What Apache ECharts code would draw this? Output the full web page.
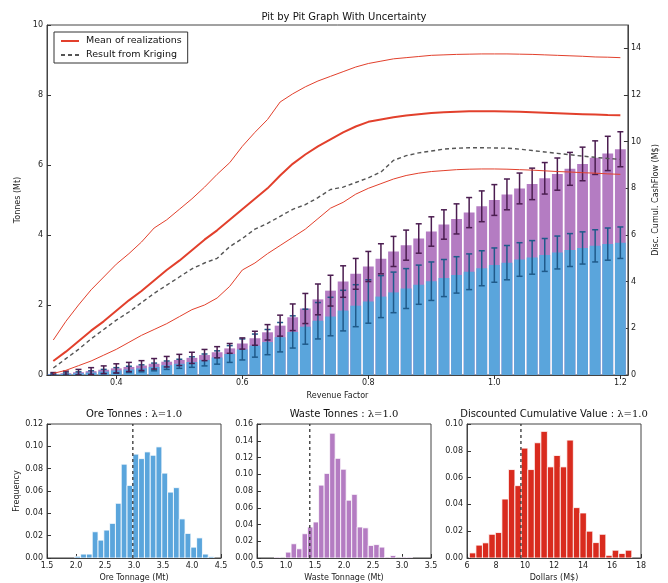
<!DOCTYPE html>
<html><head><meta charset="utf-8">
<script src="https://cdn.jsdelivr.net/npm/echarts@6/dist/echarts.min.js"></script>
<style>html,body{margin:0;padding:0;background:#fff}#c{width:668px;height:583px}</style>
</head><body><div id="c"></div>
<script>
// ---------------- DATA ----------------
const revenueFactor = [0.30,0.32,0.34,0.36,0.38,0.40,0.42,0.44,0.46,0.48,0.50,0.52,0.54,0.56,0.58,0.60,0.62,0.64,0.66,0.68,0.70,0.72,0.74,0.76,0.78,0.80,0.82,0.84,0.86,0.88,0.90,0.92,0.94,0.96,0.98,1.00,1.02,1.04,1.06,1.08,1.10,1.12,1.14,1.16,1.18,1.20];
const oreTonnes = [0.02,0.03,0.05,0.07,0.10,0.13,0.16,0.19,0.23,0.28,0.32,0.37,0.43,0.50,0.60,0.73,0.84,0.94,1.08,1.23,1.38,1.55,1.67,1.84,1.98,2.10,2.24,2.36,2.47,2.58,2.68,2.77,2.86,2.95,3.05,3.14,3.21,3.30,3.36,3.43,3.50,3.57,3.63,3.69,3.74,3.78];
const totalTonnes = [0.03,0.05,0.08,0.11,0.15,0.19,0.23,0.27,0.32,0.38,0.43,0.49,0.57,0.65,0.76,0.90,1.05,1.22,1.41,1.65,1.90,2.16,2.41,2.67,2.89,3.10,3.32,3.53,3.71,3.90,4.10,4.30,4.46,4.64,4.82,5.00,5.16,5.33,5.46,5.62,5.74,5.89,6.03,6.21,6.33,6.45];
const oreErr = [0.02,0.03,0.04,0.05,0.06,0.08,0.09,0.10,0.11,0.12,0.13,0.15,0.17,0.19,0.24,0.30,0.33,0.36,0.42,0.46,0.50,0.52,0.55,0.58,0.60,0.62,0.60,0.58,0.57,0.56,0.55,0.53,0.52,0.51,0.50,0.49,0.49,0.48,0.48,0.47,0.47,0.47,0.46,0.46,0.46,0.45];
const totalErr = [0.04,0.06,0.08,0.10,0.11,0.13,0.13,0.14,0.15,0.15,0.16,0.16,0.16,0.16,0.14,0.16,0.20,0.22,0.30,0.38,0.43,0.44,0.44,0.45,0.44,0.43,0.43,0.43,0.43,0.42,0.42,0.42,0.43,0.43,0.44,0.44,0.44,0.44,0.45,0.45,0.46,0.47,0.48,0.48,0.49,0.50];
const meanCash = [0.6,1.0,1.45,1.9,2.3,2.75,3.2,3.6,4.05,4.5,4.9,5.35,5.8,6.2,6.65,7.1,7.55,8.0,8.55,9.05,9.45,9.8,10.1,10.4,10.65,10.85,10.95,11.05,11.12,11.18,11.23,11.26,11.28,11.3,11.3,11.3,11.29,11.28,11.26,11.24,11.22,11.2,11.18,11.16,11.14,11.13];
const upperCash = [1.5,2.3,3.0,3.65,4.2,4.75,5.2,5.7,6.3,6.65,7.1,7.55,8.05,8.6,9.1,9.8,10.4,10.95,11.7,12.05,12.35,12.6,12.8,13.0,13.2,13.35,13.45,13.55,13.6,13.65,13.7,13.72,13.74,13.75,13.76,13.76,13.76,13.75,13.74,13.72,13.7,13.68,13.66,13.63,13.62,13.6];
const lowerCash = [0.07,0.2,0.4,0.6,0.85,1.1,1.4,1.7,1.95,2.2,2.5,2.8,3.0,3.3,3.8,4.5,4.8,5.2,5.55,5.9,6.25,6.7,7.15,7.4,7.75,8.0,8.2,8.4,8.55,8.65,8.72,8.76,8.8,8.82,8.83,8.83,8.82,8.8,8.78,8.75,8.72,8.7,8.67,8.65,8.62,8.6];
const krigingCash = [0.3,0.7,1.1,1.55,1.95,2.35,2.7,3.1,3.5,3.85,4.2,4.55,4.8,5.0,5.5,5.85,6.25,6.5,6.8,7.1,7.3,7.6,7.95,8.05,8.25,8.45,8.7,9.2,9.4,9.52,9.6,9.68,9.72,9.74,9.74,9.73,9.72,9.68,9.62,9.56,9.5,9.44,9.38,9.33,9.28,9.24];

const xTicks = [0.4,0.6,0.8,1.0,1.2];
const rightTicks = [0,2,4,6,8,10,12,14];

const oreBins = [2.03,2.13,2.23,2.33,2.43,2.53,2.63,2.73,2.83,2.93,3.03,3.13,3.23,3.33,3.43,3.53,3.63,3.73,3.83,3.93,4.03,4.13,4.23,4.33];
const oreFreq = [0.0015,0.0035,0.0035,0.0235,0.016,0.025,0.031,0.049,0.084,0.065,0.093,0.089,0.095,0.092,0.0995,0.076,0.059,0.063,0.035,0.022,0.0097,0.018,0.0035,0.0012];
const wasteBins = [0.85,0.945,1.04,1.135,1.23,1.325,1.42,1.515,1.61,1.705,1.80,1.895,1.99,2.085,2.18,2.275,2.37,2.465,2.56,2.655,2.75,2.845,2.94,3.035,3.13];
const wasteFreq = [0.001,0,0.007,0.017,0.011,0.029,0.037,0.043,0.087,0.101,0.149,0.119,0.106,0.069,0.076,0.037,0.036,0.015,0.016,0.013,0.001,0.003,0,0.001,0.001];
const valueBins = [6.39,6.84,7.29,7.73,8.18,8.63,9.08,9.53,9.97,10.42,10.87,11.32,11.77,12.21,12.66,13.11,13.56,14.01,14.45,14.90,15.35,15.80,16.24,16.69,17.14];
const valueFreq = [0.0038,0.0096,0.0113,0.0177,0.019,0.044,0.066,0.054,0.082,0.066,0.086,0.0945,0.068,0.0765,0.068,0.088,0.0376,0.0336,0.020,0.0115,0.0177,0.002,0.0058,0.0034,0.0058];
const krigingAtOne = [2.98, 1.41, 9.72];

// ---------------- CHART ----------------
const F = 'DejaVu Sans';
const blue = '#5AA5DC', purple = '#B47CC2', red = '#E2402C', blueErr = '#1F5A8A', purpErr = '#4B1D50', histRed = '#D92B1E';
const barHalf = 0.0086;

function rectRender(hw, fill) {
  return function (params, api) {
    const x = api.value(0), y0 = api.value(1), y1 = api.value(2);
    const p0 = api.coord([x - hw, y1]), p1 = api.coord([x + hw, y0]);
    return { type: 'rect', shape: { x: p0[0], y: p0[1], width: p1[0] - p0[0], height: p1[1] - p0[1] }, style: { fill: fill } };
  };
}
function errRender(color) {
  return function (params, api) {
    const x = api.value(0), lo = api.value(1), hi = api.value(2);
    const a = api.coord([x, hi]), b = api.coord([x, lo]);
    const c = 3, st = { stroke: color, lineWidth: 1.5 };
    return { type: 'group', children: [
      { type: 'line', shape: { x1: a[0], y1: a[1], x2: b[0], y2: b[1] }, style: st },
      { type: 'line', shape: { x1: a[0] - c, y1: a[1], x2: a[0] + c, y2: a[1] }, style: st },
      { type: 'line', shape: { x1: b[0] - c, y1: b[1], x2: b[0] + c, y2: b[1] }, style: st }
    ]};
  };
}

const lab = { fontFamily: F, fontSize: 8, color: '#222' };
const tickIn = { inside: true, length: 4, lineStyle: { color: '#333' } };
const aLine = { show: true, lineStyle: { color: '#444', width: 1 } };

const grids = [
  { left: 47, top: 25, width: 595, height: 350 },
  { left: 47, top: 424, width: 174, height: 140 },
  { left: 257, top: 424, width: 174, height: 140 },
  { left: 467, top: 424, width: 174, height: 140 }
].map(g => Object.assign(g, { show: true, borderColor: '#444', borderWidth: 1, backgroundColor: 'transparent' }));

const xAxis = [
  { type: 'value', gridIndex: 0, min: 0.29, max: 1.212, position: 'bottom', splitLine: { show: false },
    axisLine: aLine, axisTick: Object.assign({ customValues: xTicks }, tickIn),
    axisLabel: Object.assign({ customValues: xTicks, margin: 4, formatter: v => v.toFixed(1) }, lab),
    name: 'Revenue Factor', nameLocation: 'middle', nameGap: 12, nameTextStyle: lab },
  { type: 'value', gridIndex: 0, min: 0.29, max: 1.212, position: 'top', splitLine: { show: false },
    axisLine: aLine, axisTick: Object.assign({ customValues: xTicks }, tickIn), axisLabel: { show: false } },
  { type: 'value', gridIndex: 1, min: 1.5, max: 4.5, interval: 0.5, splitLine: { show: false }, axisLine: aLine, axisTick: tickIn,
    axisLabel: Object.assign({ margin: 4, formatter: v => v.toFixed(1) }, lab),
    name: 'Ore Tonnage (Mt)', nameLocation: 'middle', nameGap: 16, nameTextStyle: lab },
  { type: 'value', gridIndex: 2, min: 0.5, max: 3.5, interval: 0.5, splitLine: { show: false }, axisLine: aLine, axisTick: tickIn,
    axisLabel: Object.assign({ margin: 4, formatter: v => v.toFixed(1) }, lab),
    name: 'Waste Tonnage (Mt)', nameLocation: 'middle', nameGap: 16, nameTextStyle: lab },
  { type: 'value', gridIndex: 3, min: 6, max: 18, interval: 2, splitLine: { show: false }, axisLine: aLine, axisTick: tickIn,
    axisLabel: Object.assign({ margin: 4 }, lab),
    name: 'Dollars (M$)', nameLocation: 'middle', nameGap: 16, nameTextStyle: lab }
];
const yAxis = [
  { type: 'value', gridIndex: 0, min: 0, max: 10, interval: 2, position: 'left', splitLine: { show: false }, axisLine: aLine, axisTick: tickIn,
    axisLabel: Object.assign({ margin: 4 }, lab),
    name: 'Tonnes (Mt)', nameLocation: 'middle', nameGap: 25, nameRotate: 90, nameTextStyle: lab },
  { type: 'value', gridIndex: 0, min: 0, max: 15, position: 'right', splitLine: { show: false }, axisLine: aLine,
    axisTick: Object.assign({ customValues: rightTicks }, tickIn),
    axisLabel: Object.assign({ customValues: rightTicks, margin: 3 }, lab),
    name: 'Disc. Cumul. CashFlow (M$)', nameLocation: 'middle', nameGap: 12, nameRotate: 90, nameTextStyle: lab },
  { type: 'value', gridIndex: 1, min: 0, max: 0.12, interval: 0.02, splitLine: { show: false }, axisLine: aLine, axisTick: tickIn,
    axisLabel: Object.assign({ margin: 4, formatter: v => v.toFixed(2) }, lab),
    name: 'Frequency', nameLocation: 'middle', nameGap: 25, nameRotate: 90, nameTextStyle: lab },
  { type: 'value', gridIndex: 2, min: 0, max: 0.16, interval: 0.02, splitLine: { show: false }, axisLine: aLine, axisTick: tickIn,
    axisLabel: Object.assign({ margin: 4, formatter: v => v.toFixed(2) }, lab) },
  { type: 'value', gridIndex: 3, min: 0, max: 0.10, interval: 0.02, splitLine: { show: false }, axisLine: aLine, axisTick: tickIn,
    axisLabel: Object.assign({ margin: 4, formatter: v => v.toFixed(2) }, lab) }
];

const totalRects = revenueFactor.map((x, i) => [x, 0, totalTonnes[i]]);
const oreRects = revenueFactor.map((x, i) => [x, 0, oreTonnes[i]]);
const totalErrData = revenueFactor.map((x, i) => [x, totalTonnes[i] - totalErr[i], totalTonnes[i] + totalErr[i]]);
const oreErrData = revenueFactor.map((x, i) => [x, oreTonnes[i] - oreErr[i], oreTonnes[i] + oreErr[i]]);
const pair = (xs, ys) => xs.map((x, i) => [x, ys[i]]);

function histSeries(idx, bins, freq, hw, color) {
  return { type: 'custom', xAxisIndex: idx + 2, yAxisIndex: idx + 2, clip: true, z: 2,
    renderItem: (p, api) => {
      const c = api.value(0), v = api.value(1);
      const p0 = api.coord([c - hw, v]), p1 = api.coord([c + hw, 0]);
      return { type: 'rect', shape: { x: p0[0], y: p0[1], width: p1[0] - p0[0], height: p1[1] - p0[1] },
        style: { fill: color, stroke: '#fff', lineWidth: 0.8 } };
    },
    data: pair(bins, freq) };
}
function krigLine(idx, ymax) {
  return { type: 'line', xAxisIndex: idx + 2, yAxisIndex: idx + 2, symbol: 'none', z: 4, silent: true,
    lineStyle: { color: '#333', width: 1.3, type: [3, 3] },
    data: [[krigingAtOne[idx], 0], [krigingAtOne[idx], ymax]] };
}

const titleStyle = { fontFamily: F, fontSize: 10, fontWeight: 'normal', color: '#111' };
const lamRich = { a: { fontFamily: F, fontSize: 10, color: '#111' }, b: { fontFamily: 'DejaVu Serif', fontSize: 10, color: '#111' } };

const option = {
  animation: false,
  backgroundColor: '#fff',
  textStyle: { fontFamily: F },
  title: [
    { text: 'Pit by Pit Graph With Uncertainty', left: 344, top: 12, textAlign: 'center', textStyle: titleStyle, padding: 0 },
    { text: '{a|Ore Tonnes : }{b|λ=1.0}', left: 134, top: 409, textAlign: 'center', padding: 0, textStyle: Object.assign({ rich: lamRich }, titleStyle) },
    { text: '{a|Waste Tonnes : }{b|λ=1.0}', left: 344, top: 409, textAlign: 'center', padding: 0, textStyle: Object.assign({ rich: lamRich }, titleStyle) },
    { text: '{a|Discounted Cumulative Value : }{b|λ=1.0}', left: 554, top: 409, textAlign: 'center', padding: 0, textStyle: Object.assign({ rich: lamRich }, titleStyle) }
  ],
  legend: {
    data: ['Mean of realizations', 'Result from Kriging'],
    orient: 'vertical', left: 54, top: 32, padding: [4, 6, 3, 6], itemGap: 4,
    itemWidth: 18, itemHeight: 10, borderColor: '#333', borderWidth: 1, backgroundColor: '#fff',
    itemStyle: { opacity: 0 },
    textStyle: { fontFamily: F, fontSize: 9.5, color: '#111', padding: [0, 0, 0, 2] }
  },
  grid: grids,
  xAxis: xAxis,
  yAxis: yAxis,
  series: [
    { type: 'custom', name: 'Ore+Waste', xAxisIndex: 0, yAxisIndex: 0, z: 2, clip: true, renderItem: rectRender(barHalf, purple), data: totalRects },
    { type: 'custom', name: 'Ore', xAxisIndex: 0, yAxisIndex: 0, z: 2, clip: true, renderItem: rectRender(barHalf, blue), data: oreRects },
    { type: 'custom', name: 'OreErr', xAxisIndex: 0, yAxisIndex: 0, z: 3, clip: true, renderItem: errRender(blueErr), data: oreErrData },
    { type: 'custom', name: 'TotalErr', xAxisIndex: 0, yAxisIndex: 0, z: 3, clip: true, renderItem: errRender(purpErr), data: totalErrData },
    { type: 'line', name: 'Upper', xAxisIndex: 0, yAxisIndex: 1, symbol: 'none', z: 5, lineStyle: { color: red, width: 1 }, data: pair(revenueFactor, upperCash) },
    { type: 'line', name: 'Lower', xAxisIndex: 0, yAxisIndex: 1, symbol: 'none', z: 5, lineStyle: { color: red, width: 1 }, data: pair(revenueFactor, lowerCash) },
    { type: 'line', name: 'Mean of realizations', xAxisIndex: 0, yAxisIndex: 1, symbol: 'none', z: 5, itemStyle: { color: red }, lineStyle: { color: red, width: 2 }, data: pair(revenueFactor, meanCash) },
    { type: 'line', name: 'Result from Kriging', xAxisIndex: 0, yAxisIndex: 1, symbol: 'none', z: 5, itemStyle: { color: '#555' }, lineStyle: { color: '#555', width: 1.4, type: [4, 3] }, data: pair(revenueFactor, krigingCash) },
    histSeries(0, oreBins, oreFreq, 0.05, blue),
    histSeries(1, wasteBins, wasteFreq, 0.0475, purple),
    histSeries(2, valueBins, valueFreq, 0.224, histRed),
    krigLine(0, 0.12), krigLine(1, 0.16), krigLine(2, 0.10)
  ]
};
const chart = echarts.init(document.getElementById('c'));
chart.setOption(option);
</script></body></html>
